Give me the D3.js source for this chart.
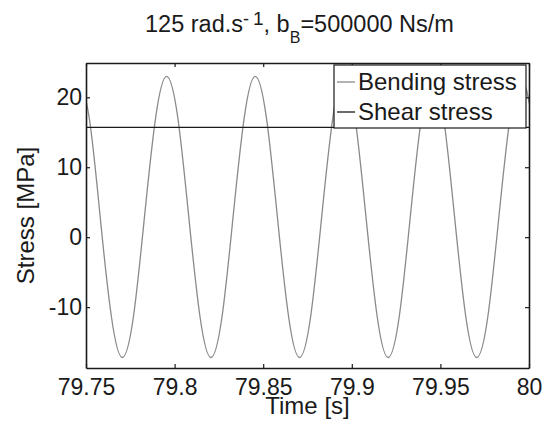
<!DOCTYPE html>
<html>
<head>
<meta charset="utf-8">
<script src="https://cdn.jsdelivr.net/npm/d3@7"></script>
<style>
  body { margin: 0; background: #fff; }
  text { font-family: "Liberation Sans", Arial, sans-serif; fill: #1a1a1a; }
</style>
</head>
<body>
<div id="chart"></div>
<script>
// bending stress at eighth-period steps
var bendTime = [79.7455, 79.7518, 79.7580, 79.7643, 79.7705, 79.7768, 79.7830, 79.7893,
                79.7955, 79.8018, 79.8080, 79.8143, 79.8205, 79.8268, 79.8330, 79.8393,
                79.8455, 79.8518, 79.8580, 79.8643, 79.8705, 79.8768, 79.8830, 79.8893,
                79.8955, 79.9018, 79.9080, 79.9143, 79.9205, 79.9268, 79.9330, 79.9393,
                79.9455, 79.9518, 79.9580, 79.9643, 79.9705, 79.9768, 79.9830, 79.9893,
                79.9955, 80.0018];
var bendStress = [23.0, 17.1, 2.9, -11.3, -17.2, -11.3, 2.9, 17.1,
                  23.0, 17.1, 2.9, -11.3, -17.2, -11.3, 2.9, 17.1,
                  23.0, 17.1, 2.9, -11.3, -17.2, -11.3, 2.9, 17.1,
                  23.0, 17.1, 2.9, -11.3, -17.2, -11.3, 2.9, 17.1,
                  23.0, 17.1, 2.9, -11.3, -17.2, -11.3, 2.9, 17.1,
                  23.0, 17.1];
var shearTime = [79.75, 80];
var shearStress = [15.7, 15.7];

var xTicks = [79.75, 79.8, 79.85, 79.9, 79.95, 80];
var xTickLabels = ["79.75", "79.8", "79.85", "79.9", "79.95", "80"];
var yTicks = [-10, 0, 10, 20];
var yTickLabels = ["-10", "0", "10", "20"];
var seriesNames = ["Bending stress", "Shear stress"];

var margin = {top: 63, right: 21, bottom: 56, left: 86},
    width = 550,
    height = 424,
    w = width - margin.left - margin.right,
    h = height - margin.top - margin.bottom;

var svg = d3.select("#chart").append("svg")
    .attr("width", width)
    .attr("height", height);

var x = d3.scaleLinear().domain([79.75, 80]).range([margin.left, margin.left + w]);
var y = d3.scaleLinear().domain([-18.7, 24.9]).range([margin.top + h, margin.top]);

svg.append("clipPath").attr("id", "plotclip")
  .append("rect")
    .attr("x", margin.left).attr("y", margin.top)
    .attr("width", w).attr("height", h);

var bend = bendTime.map(function(t, i) { return [t, bendStress[i]]; });
var shear = shearTime.map(function(t, i) { return [t, shearStress[i]]; });

var line = d3.line()
    .x(function(d) { return x(d[0]); })
    .y(function(d) { return y(d[1]); })
    .curve(d3.curveNatural);

svg.append("path")
    .datum(bend)
    .attr("clip-path", "url(#plotclip)")
    .attr("fill", "none")
    .attr("stroke", "#8a8a8a")
    .attr("stroke-width", 1.3)
    .attr("d", line);

svg.append("path")
    .datum(shear)
    .attr("fill", "none")
    .attr("stroke", "#1a1a1a")
    .attr("stroke-width", 1.3)
    .attr("d", d3.line().x(function(d) { return x(d[0]); }).y(function(d) { return y(d[1]); }));

// axes, ticks pointing inward on all four sides
function styleAxis(g) {
  g.selectAll(".domain").attr("stroke", "#1a1a1a").attr("stroke-width", 1.6);
  g.selectAll(".tick line").attr("stroke", "#1a1a1a").attr("stroke-width", 1.2);
  g.selectAll(".tick text").style("font-size", "23px").attr("fill", "#1a1a1a");
}

svg.append("g")
    .attr("transform", "translate(0," + (margin.top + h) + ")")
    .call(d3.axisBottom(x).tickValues(xTicks)
      .tickFormat(function(d, i) { return xTickLabels[i]; })
      .tickSizeInner(-4).tickSizeOuter(0).tickPadding(11))
    .call(styleAxis);

svg.append("g")
    .attr("transform", "translate(0," + margin.top + ")")
    .call(d3.axisTop(x).tickValues(xTicks).tickFormat("")
      .tickSizeInner(-4).tickSizeOuter(0))
    .call(styleAxis);

svg.append("g")
    .attr("transform", "translate(" + margin.left + ",0)")
    .call(d3.axisLeft(y).tickValues(yTicks)
      .tickFormat(function(d, i) { return yTickLabels[i]; })
      .tickSizeInner(-4).tickSizeOuter(0).tickPadding(4))
    .call(styleAxis);

svg.append("g")
    .attr("transform", "translate(" + (margin.left + w) + ",0)")
    .call(d3.axisRight(y).tickValues(yTicks).tickFormat("")
      .tickSizeInner(-4).tickSizeOuter(0))
    .call(styleAxis);

// labels
svg.append("text")
    .attr("x", margin.left + w / 2)
    .attr("y", 414)
    .attr("text-anchor", "middle")
    .style("font-size", "24px")
    .text("Time [s]");

svg.append("text")
    .attr("transform", "translate(34," + (margin.top + h / 2) + ") rotate(-90)")
    .attr("text-anchor", "middle")
    .style("font-size", "24px")
    .text("Stress [MPa]");

var title = svg.append("text")
    .attr("x", 145)
    .attr("y", 32)
    .style("font-size", "23.5px");
title.append("tspan").text("125 rad.s");
title.append("tspan").attr("dy", -7).style("font-size", "18px").text("-");
title.append("tspan").attr("dx", 4).style("font-size", "19px").text("1");
title.append("tspan").attr("dy", 7).text(", b");
title.append("tspan").attr("dy", 11).style("font-size", "16px").text("B");
title.append("tspan").attr("dy", -11).text("=500000 Ns/m");

// legend
var legend = svg.append("g").attr("transform", "translate(334,65)");
legend.append("rect")
    .attr("width", 192).attr("height", 63)
    .attr("fill", "#fff")
    .attr("stroke", "#1a1a1a")
    .attr("stroke-width", 1.2);

var legendColors = ["#8a8a8a", "#1a1a1a"];
seriesNames.forEach(function(name, i) {
  legend.append("line")
      .attr("x1", 3).attr("x2", 21)
      .attr("y1", 17 + i * 30).attr("y2", 17 + i * 30)
      .attr("stroke", legendColors[i])
      .attr("stroke-width", 1.3);
  legend.append("text")
      .attr("x", 24)
      .attr("y", 25 + i * 30)
      .style("font-size", "24px")
      .text(name);
});
</script>
</body>
</html>
